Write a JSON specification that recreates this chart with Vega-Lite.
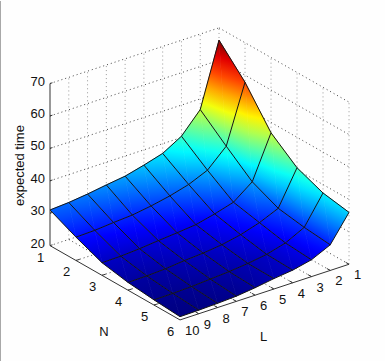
{
"$schema":"https://vega.github.io/schema/vega-lite/v6.json",
"width":385,"height":361,"padding":0,
"autosize":{"type":"fit","contains":"padding"},
"background":"#fefefe",
"view":{"stroke":null},
"config":{"text":{"font":"Liberation Sans","fontSize":13,"fill":"#111","baseline":"middle"}},
"datasets":{
"surface":[
{"N":1,"L":1,"t":66.2},{"N":1,"L":2,"t":46.7},{"N":1,"L":3,"t":40.4},{"N":1,"L":4,"t":37},{"N":1,"L":5,"t":35.3},{"N":1,"L":6,"t":33.8},{"N":1,"L":7,"t":33},{"N":1,"L":8,"t":32.1},{"N":1,"L":9,"t":31.4},{"N":1,"L":10,"t":31},
{"N":2,"L":1,"t":57.8},{"N":2,"L":2,"t":40},{"N":2,"L":3,"t":34.5},{"N":2,"L":4,"t":32},{"N":2,"L":5,"t":30.4},{"N":2,"L":6,"t":29.2},{"N":2,"L":7,"t":28.3},{"N":2,"L":8,"t":27.9},{"N":2,"L":9,"t":27.4},{"N":2,"L":10,"t":27.2},
{"N":3,"L":1,"t":46.8},{"N":3,"L":2,"t":33.6},{"N":3,"L":3,"t":29.2},{"N":3,"L":4,"t":27.5},{"N":3,"L":5,"t":26.1},{"N":3,"L":6,"t":25.5},{"N":3,"L":7,"t":25},{"N":3,"L":8,"t":24.4},{"N":3,"L":9,"t":24},{"N":3,"L":10,"t":23.9},
{"N":4,"L":1,"t":40.6},{"N":4,"L":2,"t":30},{"N":4,"L":3,"t":27.5},{"N":4,"L":4,"t":25.7},{"N":4,"L":5,"t":24.5},{"N":4,"L":6,"t":23.8},{"N":4,"L":7,"t":23.4},{"N":4,"L":8,"t":22.8},{"N":4,"L":9,"t":22.5},{"N":4,"L":10,"t":22.4},
{"N":5,"L":1,"t":37.4},{"N":5,"L":2,"t":28.7},{"N":5,"L":3,"t":25.8},{"N":5,"L":4,"t":24.2},{"N":5,"L":5,"t":23.3},{"N":5,"L":6,"t":22.7},{"N":5,"L":7,"t":22.3},{"N":5,"L":8,"t":21.9},{"N":5,"L":9,"t":21.7},{"N":5,"L":10,"t":21.6},
{"N":6,"L":1,"t":36},{"N":6,"L":2,"t":27.9},{"N":6,"L":3,"t":25.2},{"N":6,"L":4,"t":23.9},{"N":6,"L":5,"t":23.2},{"N":6,"L":6,"t":22.3},{"N":6,"L":7,"t":21.6},{"N":6,"L":8,"t":21.3},{"N":6,"L":9,"t":21.1},{"N":6,"L":10,"t":21}
],
"lines":[
{"k":"h","n1":1,"l1":10,"z1":20,"n2":1,"l2":1,"z2":20},{"k":"h","n1":1,"l1":10,"z1":30,"n2":1,"l2":1,"z2":30},{"k":"h","n1":1,"l1":10,"z1":40,"n2":1,"l2":1,"z2":40},{"k":"h","n1":1,"l1":10,"z1":50,"n2":1,"l2":1,"z2":50},{"k":"h","n1":1,"l1":10,"z1":60,"n2":1,"l2":1,"z2":60},{"k":"h","n1":1,"l1":10,"z1":70,"n2":1,"l2":1,"z2":70},
{"k":"h","n1":1,"l1":1,"z1":20,"n2":6,"l2":1,"z2":20},{"k":"h","n1":1,"l1":1,"z1":30,"n2":6,"l2":1,"z2":30},{"k":"h","n1":1,"l1":1,"z1":40,"n2":6,"l2":1,"z2":40},{"k":"h","n1":1,"l1":1,"z1":50,"n2":6,"l2":1,"z2":50},{"k":"h","n1":1,"l1":1,"z1":60,"n2":6,"l2":1,"z2":60},{"k":"h","n1":1,"l1":1,"z1":70,"n2":6,"l2":1,"z2":70},
{"k":"v","n1":1,"l1":1,"z1":20,"n2":1,"l2":1,"z2":70},{"k":"v","n1":1,"l1":2,"z1":20,"n2":1,"l2":2,"z2":70},{"k":"v","n1":1,"l1":3,"z1":20,"n2":1,"l2":3,"z2":70},{"k":"v","n1":1,"l1":4,"z1":20,"n2":1,"l2":4,"z2":70},{"k":"v","n1":1,"l1":5,"z1":20,"n2":1,"l2":5,"z2":70},{"k":"v","n1":1,"l1":6,"z1":20,"n2":1,"l2":6,"z2":70},{"k":"v","n1":1,"l1":7,"z1":20,"n2":1,"l2":7,"z2":70},{"k":"v","n1":1,"l1":8,"z1":20,"n2":1,"l2":8,"z2":70},{"k":"v","n1":1,"l1":9,"z1":20,"n2":1,"l2":9,"z2":70},
{"k":"v","n1":2,"l1":1,"z1":20,"n2":2,"l2":1,"z2":70},{"k":"v","n1":3,"l1":1,"z1":20,"n2":3,"l2":1,"z2":70},{"k":"v","n1":4,"l1":1,"z1":20,"n2":4,"l2":1,"z2":70},{"k":"v","n1":5,"l1":1,"z1":20,"n2":5,"l2":1,"z2":70},{"k":"v","n1":6,"l1":1,"z1":20,"n2":6,"l2":1,"z2":70},
{"k":"h","n1":1,"l1":2,"z1":20,"n2":6,"l2":2,"z2":20},{"k":"h","n1":1,"l1":3,"z1":20,"n2":6,"l2":3,"z2":20},{"k":"h","n1":1,"l1":4,"z1":20,"n2":6,"l2":4,"z2":20},{"k":"h","n1":1,"l1":5,"z1":20,"n2":6,"l2":5,"z2":20},{"k":"h","n1":1,"l1":6,"z1":20,"n2":6,"l2":6,"z2":20},{"k":"h","n1":1,"l1":7,"z1":20,"n2":6,"l2":7,"z2":20},{"k":"h","n1":1,"l1":8,"z1":20,"n2":6,"l2":8,"z2":20},{"k":"h","n1":1,"l1":9,"z1":20,"n2":6,"l2":9,"z2":20},
{"k":"h","n1":2,"l1":10,"z1":20,"n2":2,"l2":1,"z2":20},{"k":"h","n1":3,"l1":10,"z1":20,"n2":3,"l2":1,"z2":20},{"k":"h","n1":4,"l1":10,"z1":20,"n2":4,"l2":1,"z2":20},{"k":"h","n1":5,"l1":10,"z1":20,"n2":5,"l2":1,"z2":20},
{"k":"a","n1":1,"l1":10,"z1":20,"n2":1,"l2":10,"z2":70},{"k":"a","n1":1,"l1":10,"z1":20,"n2":6,"l2":10,"z2":20},{"k":"a","n1":6,"l1":10,"z1":20,"n2":6,"l2":1,"z2":20},
{"k":"a","n1":1,"l1":10,"z1":20,"n2":1,"l2":9.87,"z2":20},{"k":"a","n1":1,"l1":10,"z1":30,"n2":1,"l2":9.87,"z2":30},{"k":"a","n1":1,"l1":10,"z1":40,"n2":1,"l2":9.87,"z2":40},{"k":"a","n1":1,"l1":10,"z1":50,"n2":1,"l2":9.87,"z2":50},{"k":"a","n1":1,"l1":10,"z1":60,"n2":1,"l2":9.87,"z2":60},{"k":"a","n1":1,"l1":10,"z1":70,"n2":1,"l2":9.87,"z2":70},
{"k":"a","n1":2,"l1":10,"z1":20,"n2":2,"l2":9.8,"z2":20},{"k":"a","n1":3,"l1":10,"z1":20,"n2":3,"l2":9.8,"z2":20},{"k":"a","n1":4,"l1":10,"z1":20,"n2":4,"l2":9.8,"z2":20},{"k":"a","n1":5,"l1":10,"z1":20,"n2":5,"l2":9.8,"z2":20},
{"k":"a","n1":6,"l1":1,"z1":20,"n2":5.87,"l2":1,"z2":20},{"k":"a","n1":6,"l1":2,"z1":20,"n2":5.87,"l2":2,"z2":20},{"k":"a","n1":6,"l1":3,"z1":20,"n2":5.87,"l2":3,"z2":20},{"k":"a","n1":6,"l1":4,"z1":20,"n2":5.87,"l2":4,"z2":20},{"k":"a","n1":6,"l1":5,"z1":20,"n2":5.87,"l2":5,"z2":20},{"k":"a","n1":6,"l1":6,"z1":20,"n2":5.87,"l2":6,"z2":20},{"k":"a","n1":6,"l1":7,"z1":20,"n2":5.87,"l2":7,"z2":20},{"k":"a","n1":6,"l1":8,"z1":20,"n2":5.87,"l2":8,"z2":20},{"k":"a","n1":6,"l1":9,"z1":20,"n2":5.87,"l2":9,"z2":20}
],
"ticksZ":[{"N":1,"L":10,"t":20,"label":"20"},{"N":1,"L":10,"t":30,"label":"30"},{"N":1,"L":10,"t":40,"label":"40"},{"N":1,"L":10,"t":50,"label":"50"},{"N":1,"L":10,"t":60,"label":"60"},{"N":1,"L":10,"t":70,"label":"70"}],
"ticksN":[{"N":1,"L":10,"t":20,"label":"1"},{"N":2,"L":10,"t":20,"label":"2"},{"N":3,"L":10,"t":20,"label":"3"},{"N":4,"L":10,"t":20,"label":"4"},{"N":5,"L":10,"t":20,"label":"5"},{"N":6,"L":10,"t":20,"label":"6"}],
"ticksL":[{"N":6,"L":1,"t":20,"label":"1"},{"N":6,"L":2,"t":20,"label":"2"},{"N":6,"L":3,"t":20,"label":"3"},{"N":6,"L":4,"t":20,"label":"4"},{"N":6,"L":5,"t":20,"label":"5"},{"N":6,"L":6,"t":20,"label":"6"},{"N":6,"L":7,"t":20,"label":"7"},{"N":6,"L":8,"t":20,"label":"8"},{"N":6,"L":9,"t":20,"label":"9"},{"N":6,"L":10,"t":20,"label":"10"}]
},
"encoding":{
"x":{"field":"px","type":"quantitative","axis":null,"scale":{"domain":[-50,335],"nice":false,"zero":false}},
"y":{"field":"py","type":"quantitative","axis":null,"scale":{"domain":[-115,246],"nice":false,"zero":false}}
},
"layer":[
{"data":{"values":[{"frame":1}]},"mark":{"type":"rule","stroke":"#a8a8a8","strokeWidth":1},"encoding":{"x":{"value":0.5},"y":{"value":0},"y2":{"value":361}}},
{"data":{"name":"lines"},
"transform":[{"filter":"datum.k=='h'"},
{"calculate":"(datum.n1-1)*26+(10-datum.l1)*18.78","as":"px"},{"calculate":"-(datum.n1-1)*14.94+(10-datum.l1)*6.22+(datum.z1-20)*3.26","as":"py"},
{"calculate":"(datum.n2-1)*26+(10-datum.l2)*18.78","as":"px2"},{"calculate":"-(datum.n2-1)*14.94+(10-datum.l2)*6.22+(datum.z2-20)*3.26","as":"py2"}],
"mark":{"type":"rule","stroke":"#444","strokeWidth":1,"strokeDash":[1,3]},
"encoding":{"x2":{"field":"px2"},"y2":{"field":"py2"}}},
{"data":{"name":"lines"},
"transform":[{"filter":"datum.k=='v'"},
{"calculate":"(datum.n1-1)*26+(10-datum.l1)*18.78","as":"px"},{"calculate":"-(datum.n1-1)*14.94+(10-datum.l1)*6.22+(datum.z1-20)*3.26","as":"py"},
{"calculate":"(datum.n2-1)*26+(10-datum.l2)*18.78","as":"px2"},{"calculate":"-(datum.n2-1)*14.94+(10-datum.l2)*6.22+(datum.z2-20)*3.26","as":"py2"}],
"mark":{"type":"rule","stroke":"#999","strokeWidth":1,"strokeDash":[1,3]},
"encoding":{"x2":{"field":"px2"},"y2":{"field":"py2"}}},
{"data":{"name":"surface"},
"transform":[
{"calculate":"[0,1,2,3]","as":"corner"},{"flatten":["corner"]},
{"calculate":"datum.L-((datum.corner==1||datum.corner==2)?1:0)","as":"cL"},
{"calculate":"datum.N-(datum.corner>=2?1:0)","as":"cN"},
{"filter":"datum.cL>=1&&datum.cL<=9&&datum.cN>=1&&datum.cN<=5"},
{"calculate":"(datum.N-1)*26+(10-datum.L)*18.78","as":"px"},
{"calculate":"-(datum.N-1)*14.94+(10-datum.L)*6.22+(datum.t-20)*3.26","as":"py"},
{"calculate":"datum.corner==1?['A']:datum.corner==3?['B']:['A','B']","as":"tri"},{"flatten":["tri"]},
{"calculate":"datum.corner==0?1:datum.corner==2?2:0","as":"ord"},
{"calculate":"datum.cL+'-'+datum.cN+'-'+datum.tri","as":"cell"},
{"calculate":"datum.ord==1?datum.px:null","as":"a1"},{"calculate":"datum.ord==1?datum.py:null","as":"b1"},{"calculate":"datum.ord==1?datum.t:null","as":"c1"},
{"calculate":"datum.ord==0?datum.px:null","as":"a0"},{"calculate":"datum.ord==0?datum.py:null","as":"b0"},{"calculate":"datum.ord==0?datum.t:null","as":"c0"},
{"calculate":"datum.ord==2?datum.px:null","as":"a2"},{"calculate":"datum.ord==2?datum.py:null","as":"b2"},{"calculate":"datum.ord==2?datum.t:null","as":"c2"},
{"joinaggregate":[
{"op":"max","field":"a1","as":"Xv"},{"op":"max","field":"b1","as":"Yv"},{"op":"max","field":"c1","as":"Tv"},
{"op":"max","field":"a0","as":"Xm"},{"op":"max","field":"b0","as":"Ym"},{"op":"max","field":"c0","as":"Tm"},
{"op":"max","field":"a2","as":"Xe"},{"op":"max","field":"b2","as":"Ye"},{"op":"max","field":"c2","as":"Te"},
{"op":"min","field":"px","as":"xmin"},{"op":"max","field":"px","as":"xmax"},{"op":"min","field":"py","as":"ymin"},{"op":"max","field":"py","as":"ymax"},
{"op":"min","field":"t","as":"tl"},{"op":"max","field":"t","as":"tu"}],"groupby":["cell"]},
{"calculate":"(datum.Xm-datum.Xv)/(datum.xmax-datum.xmin)","as":"U1"},
{"calculate":"(datum.Yv-datum.Ym)/(datum.ymax-datum.ymin)","as":"V1"},
{"calculate":"(datum.Xe-datum.Xv)/(datum.xmax-datum.xmin)","as":"U2"},
{"calculate":"(datum.Yv-datum.Ye)/(datum.ymax-datum.ymin)","as":"V2"},
{"calculate":"datum.Tm-datum.Tv","as":"D1"},{"calculate":"datum.Te-datum.Tv","as":"D2"},
{"calculate":"(datum.Xv-datum.xmin)/(datum.xmax-datum.xmin)","as":"u0"},
{"calculate":"(datum.ymax-datum.Yv)/(datum.ymax-datum.ymin)","as":"v0"},
{"calculate":"datum.U1*datum.V2-datum.U2*datum.V1","as":"det"},
{"calculate":"(datum.D1*datum.V2-datum.D2*datum.V1)/datum.det","as":"ga"},
{"calculate":"(datum.U1*datum.D2-datum.U2*datum.D1)/datum.det","as":"gb"},
{"calculate":"1/max(datum.ga*datum.ga+datum.gb*datum.gb,0.000001)","as":"gs"},
{"calculate":"(datum.tl-21)/45.2","as":"k0"},
{"calculate":"(datum.tl+(datum.tu-datum.tl)/6-21)/45.2","as":"k1"},
{"calculate":"(datum.tl+(datum.tu-datum.tl)/3-21)/45.2","as":"k2"},
{"calculate":"(datum.tl+(datum.tu-datum.tl)/2-21)/45.2","as":"k3"},
{"calculate":"(datum.tl+(datum.tu-datum.tl)*2/3-21)/45.2","as":"k4"},
{"calculate":"(datum.tl+(datum.tu-datum.tl)*5/6-21)/45.2","as":"k5"},
{"calculate":"(datum.tu-21)/45.2","as":"k6"},
{"calculate":"'rgb('+round(255*clamp(1.5-abs(4*datum.k0-3),0,1))+','+round(255*clamp(1.5-abs(4*datum.k0-2),0,1))+','+round(255*clamp(1.5-abs(4*datum.k0-1),0,1))+')'","as":"s0"},
{"calculate":"'rgb('+round(255*clamp(1.5-abs(4*datum.k1-3),0,1))+','+round(255*clamp(1.5-abs(4*datum.k1-2),0,1))+','+round(255*clamp(1.5-abs(4*datum.k1-1),0,1))+')'","as":"s1"},
{"calculate":"'rgb('+round(255*clamp(1.5-abs(4*datum.k2-3),0,1))+','+round(255*clamp(1.5-abs(4*datum.k2-2),0,1))+','+round(255*clamp(1.5-abs(4*datum.k2-1),0,1))+')'","as":"s2"},
{"calculate":"'rgb('+round(255*clamp(1.5-abs(4*datum.k3-3),0,1))+','+round(255*clamp(1.5-abs(4*datum.k3-2),0,1))+','+round(255*clamp(1.5-abs(4*datum.k3-1),0,1))+')'","as":"s3"},
{"calculate":"'rgb('+round(255*clamp(1.5-abs(4*datum.k4-3),0,1))+','+round(255*clamp(1.5-abs(4*datum.k4-2),0,1))+','+round(255*clamp(1.5-abs(4*datum.k4-1),0,1))+')'","as":"s4"},
{"calculate":"'rgb('+round(255*clamp(1.5-abs(4*datum.k5-3),0,1))+','+round(255*clamp(1.5-abs(4*datum.k5-2),0,1))+','+round(255*clamp(1.5-abs(4*datum.k5-1),0,1))+')'","as":"s5"},
{"calculate":"'rgb('+round(255*clamp(1.5-abs(4*datum.k6-3),0,1))+','+round(255*clamp(1.5-abs(4*datum.k6-2),0,1))+','+round(255*clamp(1.5-abs(4*datum.k6-1),0,1))+')'","as":"s6"},
{"calculate":"{gradient:'linear',x1:datum.u0+(datum.tl-datum.Tv)*datum.gs*datum.ga,y1:datum.v0+(datum.tl-datum.Tv)*datum.gs*datum.gb,x2:datum.u0+(datum.tu-datum.Tv)*datum.gs*datum.ga,y2:datum.v0+(datum.tu-datum.Tv)*datum.gs*datum.gb,stops:[{offset:0,color:datum.s0},{offset:0.1667,color:datum.s1},{offset:0.3333,color:datum.s2},{offset:0.5,color:datum.s3},{offset:0.6667,color:datum.s4},{offset:0.8333,color:datum.s5},{offset:1,color:datum.s6}]}","as":"grad"}
],
"mark":{"type":"line","filled":true,"strokeWidth":0.7},
"encoding":{"detail":{"field":"cell","type":"nominal"},"order":{"field":"ord","type":"quantitative"},"fill":{"field":"grad","type":"nominal","scale":null,"legend":null},"stroke":{"field":"grad","type":"nominal","scale":null,"legend":null}}},
{"data":{"name":"surface"},
"transform":[{"calculate":"(datum.N-1)*26+(10-datum.L)*18.78","as":"px"},{"calculate":"-(datum.N-1)*14.94+(10-datum.L)*6.22+(datum.t-20)*3.26","as":"py"}],
"mark":{"type":"line","stroke":"#151515","strokeWidth":1},
"encoding":{"detail":{"field":"N","type":"nominal"},"order":{"field":"L","type":"quantitative"}}},
{"data":{"name":"surface"},
"transform":[{"calculate":"(datum.N-1)*26+(10-datum.L)*18.78","as":"px"},{"calculate":"-(datum.N-1)*14.94+(10-datum.L)*6.22+(datum.t-20)*3.26","as":"py"}],
"mark":{"type":"line","stroke":"#151515","strokeWidth":1},
"encoding":{"detail":{"field":"L","type":"nominal"},"order":{"field":"N","type":"quantitative"}}},
{"data":{"name":"lines"},
"transform":[{"filter":"datum.k=='a'"},
{"calculate":"(datum.n1-1)*26+(10-datum.l1)*18.78","as":"px"},{"calculate":"-(datum.n1-1)*14.94+(10-datum.l1)*6.22+(datum.z1-20)*3.26","as":"py"},
{"calculate":"(datum.n2-1)*26+(10-datum.l2)*18.78","as":"px2"},{"calculate":"-(datum.n2-1)*14.94+(10-datum.l2)*6.22+(datum.z2-20)*3.26","as":"py2"}],
"mark":{"type":"rule","stroke":"#333","strokeWidth":1},
"encoding":{"x2":{"field":"px2"},"y2":{"field":"py2"}}},
{"data":{"name":"ticksZ"},
"transform":[{"calculate":"(datum.N-1)*26+(10-datum.L)*18.78","as":"px"},{"calculate":"-(datum.N-1)*14.94+(10-datum.L)*6.22+(datum.t-20)*3.26","as":"py"}],
"mark":{"type":"text","align":"right","dx":-5,"dy":-2},"encoding":{"text":{"field":"label"}}},
{"data":{"name":"ticksN"},
"transform":[{"calculate":"(datum.N-1)*26+(10-datum.L)*18.78","as":"px"},{"calculate":"-(datum.N-1)*14.94+(10-datum.L)*6.22+(datum.t-20)*3.26","as":"py"}],
"mark":{"type":"text","align":"center","dx":-9.5,"dy":12},"encoding":{"text":{"field":"label"}}},
{"data":{"name":"ticksL"},
"transform":[{"calculate":"(datum.N-1)*26+(10-datum.L)*18.78","as":"px"},{"calculate":"-(datum.N-1)*14.94+(10-datum.L)*6.22+(datum.t-20)*3.26","as":"py"}],
"mark":{"type":"text","align":"left","dx":5,"dy":11},"encoding":{"text":{"field":"label"}}},
{"data":{"values":[{"N":3.5,"L":10,"t":20,"label":"N"}]},
"transform":[{"calculate":"(datum.N-1)*26+(10-datum.L)*18.78","as":"px"},{"calculate":"-(datum.N-1)*14.94+(10-datum.L)*6.22+(datum.t-20)*3.26","as":"py"}],
"mark":{"type":"text","align":"center","dx":-11,"dy":49.6},"encoding":{"text":{"field":"label"}}},
{"data":{"values":[{"N":6,"L":5.5,"t":20,"label":"L"}]},
"transform":[{"calculate":"(datum.N-1)*26+(10-datum.L)*18.78","as":"px"},{"calculate":"-(datum.N-1)*14.94+(10-datum.L)*6.22+(datum.t-20)*3.26","as":"py"}],
"mark":{"type":"text","align":"center","dx":-1,"dy":44.8},"encoding":{"text":{"field":"label"}}},
{"data":{"values":[{"N":1,"L":10,"t":44.7,"label":"expected time"}]},
"transform":[{"calculate":"(datum.N-1)*26+(10-datum.L)*18.78","as":"px"},{"calculate":"-(datum.N-1)*14.94+(10-datum.L)*6.22+(datum.t-20)*3.26","as":"py"}],
"mark":{"type":"text","align":"center","angle":270,"dx":0,"dy":-30.5},"encoding":{"text":{"field":"label"}}}
]
}
